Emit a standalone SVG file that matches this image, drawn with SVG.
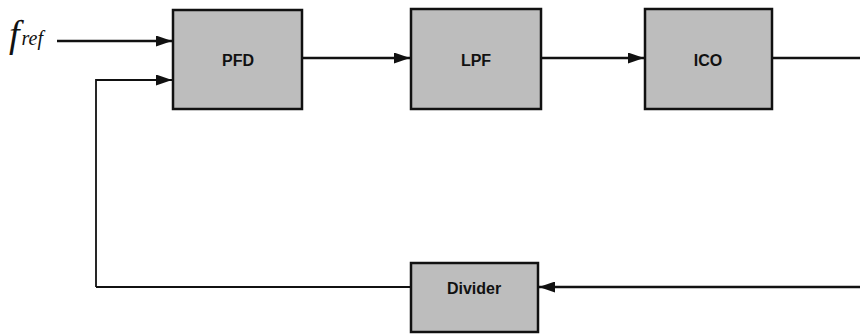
<svg xmlns="http://www.w3.org/2000/svg" width="860" height="335" viewBox="0 0 860 335">
<style>
.box{fill:#bdbdbd;stroke:#111;stroke-width:2.5}
.lbl{font-family:"Liberation Sans",Arial,sans-serif;font-weight:bold;font-size:16px;fill:#111;text-anchor:middle}
.wire{fill:none;stroke:#111;stroke-width:2.5}
.thin{fill:none;stroke:#111;stroke-width:1.8}
</style>
<defs>
<marker id="arr" viewBox="0 0 16 11" refX="16" refY="5.5" markerWidth="16" markerHeight="11" markerUnits="userSpaceOnUse" orient="auto">
<path d="M0,0 L16,5.5 L0,11 Z" fill="#111"/>
</marker>
</defs>
<rect width="860" height="335" fill="#fff"/>
<g id="connectors">
<line class="wire" x1="57" y1="41" x2="172" y2="41" marker-end="url(#arr)"/>
<polyline class="thin" points="96,287 96,80 172,80" marker-end="url(#arr)"/>
<line class="wire" x1="303" y1="58" x2="410" y2="58" marker-end="url(#arr)"/>
<line class="wire" x1="542" y1="58" x2="644" y2="58" marker-end="url(#arr)"/>
<line class="wire" x1="773" y1="58" x2="860" y2="58"/>
<line class="wire" x1="860" y1="287" x2="539" y2="287" marker-end="url(#arr)"/>
<line class="thin" x1="96" y1="287" x2="411" y2="287"/>
</g>
<g id="fref">
<text x="9" y="47" font-family="Liberation Serif,serif" font-style="italic" font-size="38" fill="#111">f<tspan font-size="20" dx="2" dy="-2">ref</tspan></text>
</g>
<g id="pfd"><rect class="box" x="173" y="10" width="129" height="99"/><text class="lbl" x="238" y="66">PFD</text></g>
<g id="lpf"><rect class="box" x="411" y="9" width="130" height="100"/><text class="lbl" x="476" y="66">LPF</text></g>
<g id="ico"><rect class="box" x="645" y="9" width="127" height="100"/><text class="lbl" x="708" y="66">ICO</text></g>
<g id="divider"><rect class="box" x="411" y="263" width="127" height="69"/><text class="lbl" x="474" y="294">Divider</text></g>
</svg>
